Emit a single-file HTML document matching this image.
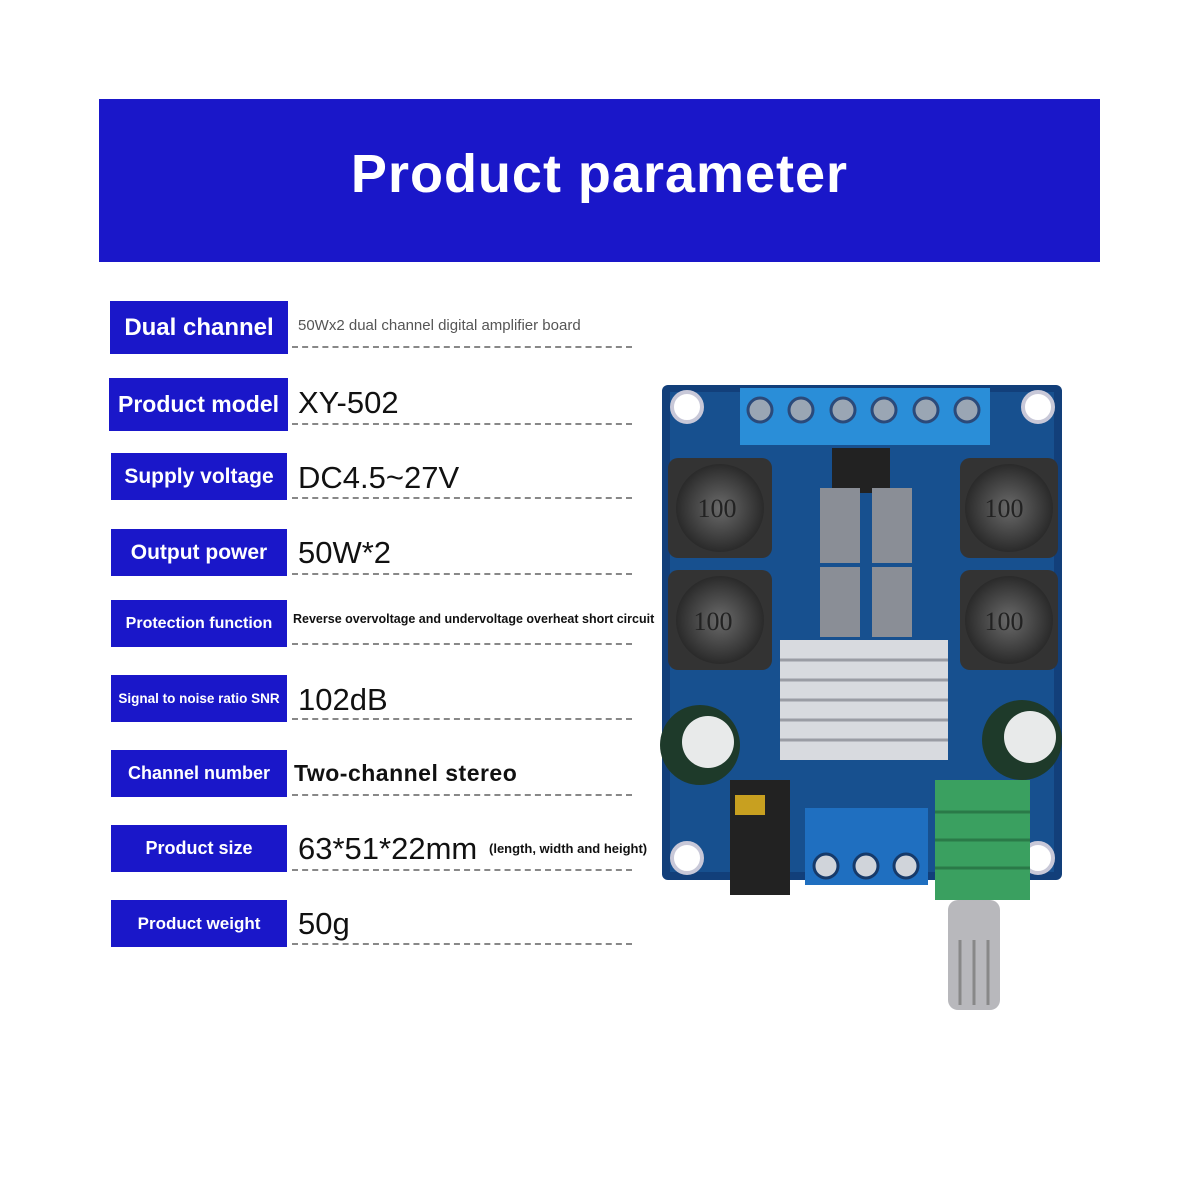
<!DOCTYPE html>
<html><head><meta charset="utf-8"><style>
body{margin:0;width:1200px;height:1200px;background:#fff;position:relative;overflow:hidden;font-family:"Liberation Sans",sans-serif}
.ban{position:absolute;left:99px;top:99px;width:1001px;height:163px;background:#1a17c9;color:#fff;font-weight:bold;font-size:54px;text-align:center;line-height:150px;letter-spacing:1px}
.lb{position:absolute;left:111px;width:176px;background:#1a17c9;color:#fff;font-weight:bold;text-align:center;white-space:nowrap}
.v{position:absolute;left:298px;color:#111;white-space:nowrap}
.d{position:absolute;left:292px;width:340px;border-top:2px dashed #888}
</style></head><body>
<div class="ban">Product parameter</div>

<div class="lb" style="left:110px;width:178px;top:301px;height:53px;line-height:53px;font-size:24px">Dual channel</div>
<div class="v" style="top:317px;font-size:15px;color:#555">50Wx2 dual channel digital amplifier board</div>
<div class="d" style="top:346px"></div>

<div class="lb" style="left:109px;width:179px;top:378px;height:53px;line-height:53px;font-size:23px">Product model</div>
<div class="v" style="top:385px;font-size:31px">XY-502</div>
<div class="d" style="top:423px"></div>

<div class="lb" style="top:453px;height:47px;line-height:47px;font-size:21px">Supply voltage</div>
<div class="v" style="top:460px;font-size:31px">DC4.5~27V</div>
<div class="d" style="top:497px"></div>

<div class="lb" style="top:529px;height:47px;line-height:47px;font-size:21px">Output power</div>
<div class="v" style="top:535px;font-size:31px">50W*2</div>
<div class="d" style="top:573px"></div>

<div class="lb" style="top:600px;height:47px;line-height:47px;font-size:16px">Protection function</div>
<div class="v" style="left:293px;top:612px;font-size:12.5px;font-weight:bold">Reverse overvoltage and undervoltage overheat short circuit</div>
<div class="d" style="top:643px"></div>

<div class="lb" style="top:675px;height:47px;line-height:47px;font-size:13.5px">Signal to noise ratio SNR</div>
<div class="v" style="top:682px;font-size:31px">102dB</div>
<div class="d" style="top:718px"></div>

<div class="lb" style="top:750px;height:47px;line-height:47px;font-size:18px">Channel number</div>
<div class="v" style="left:294px;top:760px;font-size:23px;font-weight:bold;letter-spacing:0.5px">Two-channel stereo</div>
<div class="d" style="top:794px"></div>

<div class="lb" style="top:825px;height:47px;line-height:47px;font-size:18px">Product size</div>
<div class="v" style="top:831px;font-size:31px">63*51*22mm</div>
<div class="v" style="left:489px;top:841px;font-size:13px;font-weight:bold">(length, width and height)</div>
<div class="d" style="top:869px"></div>

<div class="lb" style="top:900px;height:47px;line-height:47px;font-size:17px">Product weight</div>
<div class="v" style="top:906px;font-size:31px">50g</div>
<div class="d" style="top:943px"></div>

<svg style="position:absolute;left:0;top:0" width="1200" height="1200">
<defs>
<radialGradient id="ind" cx="50%" cy="50%" r="50%"><stop offset="0" stop-color="#6a6a6a"/><stop offset="1" stop-color="#2a2a2a"/></radialGradient>
</defs>
<rect x="662" y="385" width="400" height="495" rx="6" fill="#123f7a"/>
<rect x="670" y="392" width="384" height="480" fill="#17508f"/>
<g fill="#fff" stroke="#c8c8d8" stroke-width="4">
<circle cx="687" cy="407" r="15"/><circle cx="1038" cy="407" r="15"/><circle cx="687" cy="858" r="15"/><circle cx="1038" cy="858" r="15"/>
</g>
<rect x="740" y="388" width="250" height="57" fill="#2a8ed8"/>
<g fill="#9aa6b4" stroke="#2b4a7a" stroke-width="3">
<circle cx="760" cy="410" r="12"/><circle cx="801" cy="410" r="12"/><circle cx="843" cy="410" r="12"/><circle cx="884" cy="410" r="12"/><circle cx="926" cy="410" r="12"/><circle cx="967" cy="410" r="12"/>
</g>
<rect x="832" y="448" width="58" height="45" fill="#222"/>
<g>
<rect x="668" y="458" width="104" height="100" rx="10" fill="#333"/><circle cx="720" cy="508" r="44" fill="url(#ind)"/>
<rect x="960" y="458" width="98" height="100" rx="10" fill="#333"/><circle cx="1009" cy="508" r="44" fill="url(#ind)"/>
<rect x="668" y="570" width="104" height="100" rx="10" fill="#333"/><circle cx="720" cy="620" r="44" fill="url(#ind)"/>
<rect x="960" y="570" width="98" height="100" rx="10" fill="#333"/><circle cx="1009" cy="620" r="44" fill="url(#ind)"/>
</g>
<g font-family="Liberation Serif" font-size="26" fill="#222" text-anchor="middle"><text x="717" y="517">100</text><text x="1004" y="517">100</text><text x="713" y="630">100</text><text x="1004" y="630">100</text></g>
<g fill="#8a8e96"><rect x="820" y="488" width="40" height="75"/><rect x="872" y="488" width="40" height="75"/><rect x="820" y="567" width="40" height="70"/><rect x="872" y="567" width="40" height="70"/></g>
<rect x="780" y="640" width="168" height="120" fill="#d8dadf"/>
<g stroke="#9a9ca4" stroke-width="3"><line x1="780" y1="660" x2="948" y2="660"/><line x1="780" y1="680" x2="948" y2="680"/><line x1="780" y1="700" x2="948" y2="700"/><line x1="780" y1="720" x2="948" y2="720"/><line x1="780" y1="740" x2="948" y2="740"/></g>
<circle cx="700" cy="745" r="40" fill="#1e3a2a"/><circle cx="708" cy="742" r="26" fill="#e8eaea"/>
<circle cx="1022" cy="740" r="40" fill="#1e3a2a"/><circle cx="1030" cy="737" r="26" fill="#e8eaea"/>
<rect x="730" y="780" width="60" height="115" fill="#222"/><rect x="735" y="795" width="30" height="20" fill="#c8a020"/>
<rect x="805" y="808" width="123" height="77" fill="#1f6fc0"/>
<g fill="#d0d4da" stroke="#163a6a" stroke-width="3"><circle cx="826" cy="866" r="12"/><circle cx="866" cy="866" r="12"/><circle cx="906" cy="866" r="12"/></g>
<rect x="935" y="780" width="95" height="120" fill="#3aa060"/>
<g stroke="#2a7a48" stroke-width="3"><line x1="935" y1="812" x2="1030" y2="812"/><line x1="935" y1="840" x2="1030" y2="840"/><line x1="935" y1="868" x2="1030" y2="868"/></g>
<rect x="948" y="900" width="52" height="110" rx="10" fill="#b8b8bc"/>
<g stroke="#888" stroke-width="3"><line x1="960" y1="940" x2="960" y2="1005"/><line x1="974" y1="940" x2="974" y2="1005"/><line x1="988" y1="940" x2="988" y2="1005"/></g>
</svg>
</body></html>
